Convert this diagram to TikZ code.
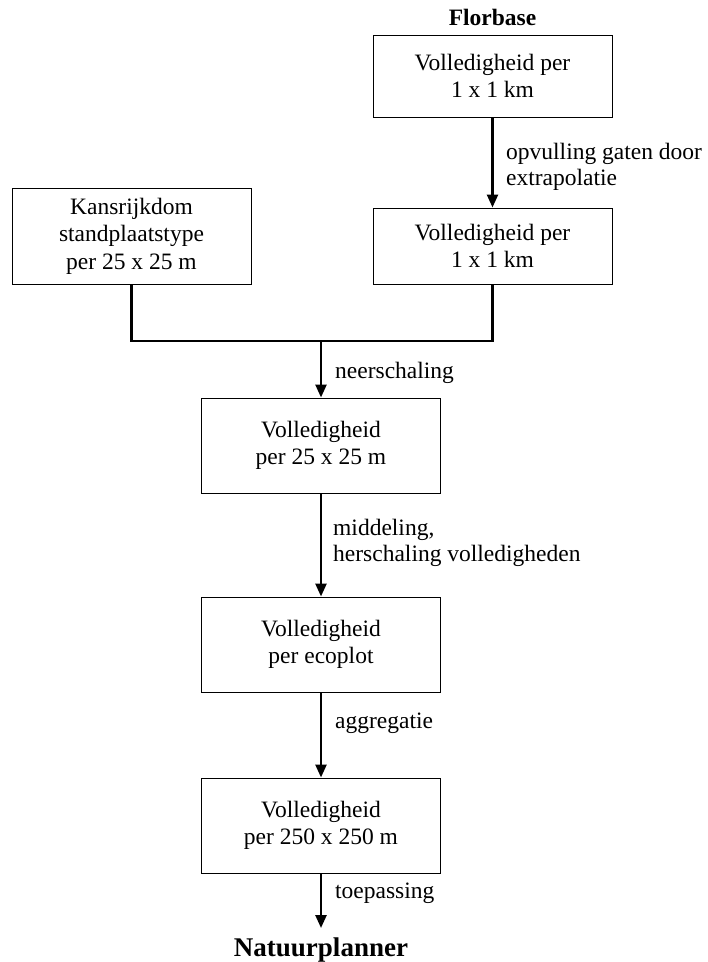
\documentclass[tikz,border=0pt]{standalone}
\usepackage{fontspec}
\setmainfont{Liberation Serif}
\usetikzlibrary{arrows.meta}
\begin{document}
\begin{tikzpicture}[x=1pt,y=-1pt,
  box/.style={draw, line width=1pt, minimum width=239pt, inner sep=0pt, align=center,
    font=\fontsize{23.5}{27.5}\selectfont},
  lbl/.style={anchor=west, align=left, inner sep=0pt, font=\fontsize{23.5}{25.5}\selectfont},
  ttl/.style={anchor=base, inner sep=0pt, font=\bfseries\fontsize{23.5}{27}\selectfont},
  arr/.style={line width=2.5pt, -{Triangle[length=13pt,width=11pt]}},
  conn/.style={line width=2.5pt}]
\useasboundingbox (0,0) rectangle (708,962);
\node[ttl] (flor) at (492.5,25) {Florbase};
\node[box, minimum height=82pt] (a) at (492.5,76) {Volledigheid per\\1 x 1 km};
\node[box, minimum height=76pt] (b) at (492.5,246) {Volledigheid per\\1 x 1 km};
\node[box, minimum height=96pt] (k) at (131.5,236) {Kansrijkdom\\standplaatstype\\per 25 x 25 m};
\node[box, minimum height=95pt] (c) at (321,445.5) {Volledigheid\\per 25 x 25 m};
\node[box, minimum height=95pt] (d) at (321,644.5) {Volledigheid\\per ecoplot};
\node[box, minimum height=95pt] (e) at (321,825.5) {Volledigheid\\per 250 x 250 m};
\node[ttl, font=\bfseries\fontsize{27}{30}\selectfont] (nat) at (321,956) {Natuurplanner};
\coordinate (kj) at (k.south |- 0,341);
\coordinate (bj) at (b.south |- 0,341);
\coordinate (j) at (c.north |- 0,341);
\coordinate (natin) at (e.south |- 0,928);

\draw[arr] (a.south) -- (b.north);
\draw[conn] (k.south) -- (kj) -- (bj) -- (b.south);
\draw[arr] (j) -- (c.north);
\draw[arr] (c.south) -- (d.north);
\draw[arr] (d.south) -- (e.north);
\draw[arr] (e.south) -- (natin);

\node[lbl] (l1) at (506,167) {opvulling gaten door\\extrapolatie};
\node[lbl] (l2) at (335,373) {neerschaling};
\node[lbl] (l3) at (333,543) {middeling,\\herschaling volledigheden};
\node[lbl] (l4) at (335,723) {aggregatie};
\node[lbl] (l5) at (335,893) {toepassing};
\end{tikzpicture}
\end{document}
